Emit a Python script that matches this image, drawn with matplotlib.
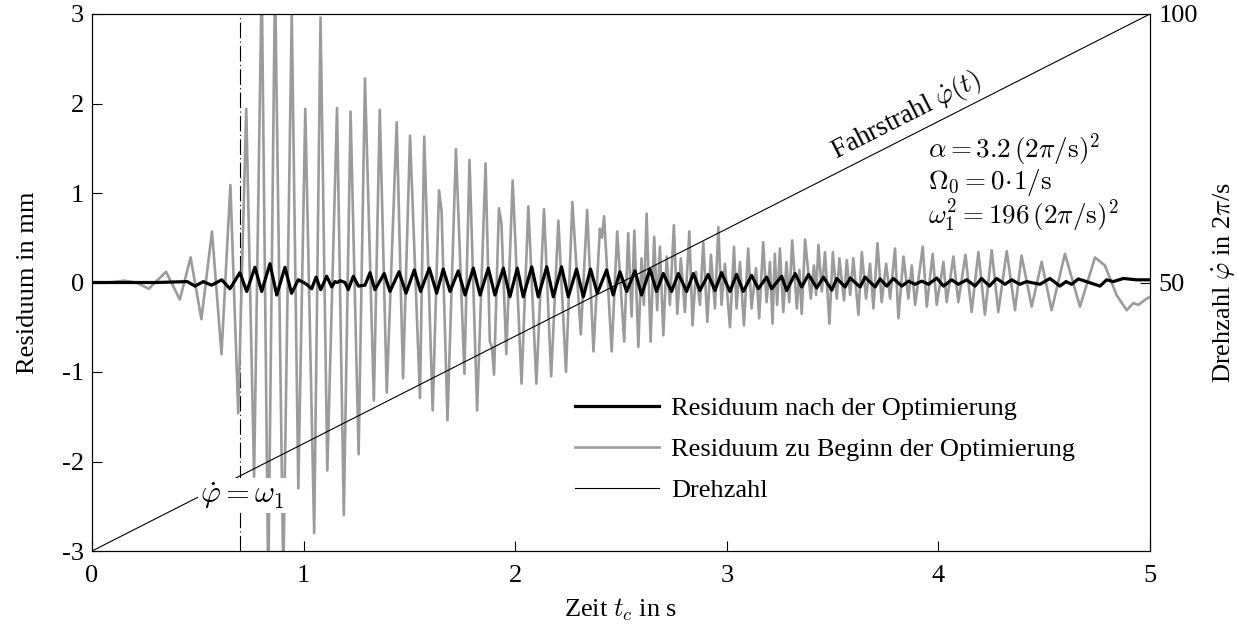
import numpy as np
import matplotlib
matplotlib.use('Agg')
import matplotlib.pyplot as plt

plt.rcParams['font.family'] = ['Liberation Serif', 'DejaVu Serif']
plt.rcParams['mathtext.fontset'] = 'cm'
plt.rcParams['axes.unicode_minus'] = False
plt.rcParams['font.size'] = 19

# ---------------- data ----------------
grey_t = [0.000, 0.080, 0.150, 0.210, 0.268, 0.350, 0.415, 0.466, 0.517, 0.567,
          0.612, 0.654, 0.691, 0.729, 0.766, 0.802, 0.833, 0.865, 0.904, 0.944,
          0.975, 1.008, 1.050, 1.080, 1.112, 1.158, 1.190, 1.222, 1.260, 1.290,
          1.332, 1.360, 1.393, 1.440, 1.470, 1.503, 1.550, 1.570, 1.610, 1.640,
          1.652, 1.680, 1.720, 1.760, 1.784, 1.820, 1.860, 1.880, 1.890, 1.900,
          1.923, 1.935, 1.958, 1.988, 2.030, 2.062, 2.100, 2.136, 2.170, 2.204,
          2.240, 2.270, 2.310, 2.340, 2.370, 2.400, 2.410, 2.420, 2.456, 2.482,
          2.515, 2.534, 2.550, 2.563, 2.582, 2.597, 2.608, 2.621, 2.640, 2.657,
          2.671, 2.684, 2.700, 2.716, 2.731, 2.750, 2.766, 2.783, 2.802, 2.823,
          2.838, 2.854, 2.873, 2.889, 2.908, 2.925, 2.944, 2.960, 2.975, 2.991,
          3.015, 3.034, 3.046, 3.062, 3.081, 3.101, 3.117, 3.138, 3.153, 3.172,
          3.188, 3.204, 3.216, 3.227, 3.238, 3.251, 3.267, 3.282, 3.295, 3.309,
          3.331, 3.343, 3.354, 3.370, 3.397, 3.412, 3.422, 3.433, 3.449, 3.464,
          3.485, 3.501, 3.520, 3.532, 3.554, 3.567, 3.583, 3.598, 3.622, 3.638,
          3.658, 3.677, 3.693, 3.712, 3.732, 3.753, 3.772, 3.795, 3.811, 3.835,
          3.858, 3.874, 3.890, 3.926, 3.945, 3.973, 3.992, 4.024, 4.039, 4.071,
          4.094, 4.128, 4.157, 4.189, 4.220, 4.252, 4.283, 4.323, 4.362, 4.393,
          4.441, 4.488, 4.535, 4.598, 4.669, 4.740, 4.787, 4.842, 4.890, 4.921,
          4.945, 4.984, 5.000]
grey_v = [0.00, 0.00, 0.02, 0.00, -0.07, 0.12, -0.19, 0.28, -0.41, 0.57,
          -0.80, 1.09, -1.46, 1.94, -2.17, 3.40, -3.40, 3.40, -3.30, 3.00,
          -2.30, 1.94, -2.80, 2.96, -2.10, 1.95, -2.60, 1.91, -1.92, 2.28,
          -1.32, 1.93, -1.23, 1.79, -1.07, 1.64, -1.29, 1.63, -1.43, 1.03,
          0.80, -1.54, 1.49, -1.02, 1.37, -1.43, 1.33, -0.66, -0.72, -1.03,
          0.83, 0.66, -0.80, 1.14, -1.13, 0.85, -1.13, 0.82, -1.05, 0.69,
          -1.00, 0.90, -0.58, 0.81, -0.77, 0.60, 0.50, 0.74, -0.77, 0.57,
          -0.66, 0.55, -0.38, 0.58, -0.72, 0.27, -0.25, 0.77, -0.66, 0.51,
          -0.31, 0.40, -0.59, 0.29, -0.25, 0.64, -0.35, 0.27, -0.33, 0.57,
          -0.48, 0.12, -0.25, 0.45, -0.44, 0.31, -0.29, 0.62, -0.25, 0.21,
          -0.50, 0.40, -0.29, 0.23, -0.48, 0.38, -0.29, 0.16, -0.40, 0.45,
          -0.22, 0.23, -0.46, 0.32, -0.25, 0.38, -0.33, 0.23, -0.22, 0.47,
          -0.29, 0.14, -0.35, 0.48, -0.18, 0.19, -0.14, 0.42, -0.10, 0.34,
          -0.46, 0.34, -0.18, 0.27, -0.20, 0.25, -0.14, 0.27, -0.36, 0.34,
          -0.18, 0.21, -0.29, 0.44, -0.22, 0.21, -0.18, 0.38, -0.40, 0.29,
          -0.18, 0.19, -0.25, 0.40, -0.27, 0.32, -0.25, 0.23, -0.22, 0.29,
          -0.22, 0.31, -0.33, 0.34, -0.36, 0.36, -0.33, 0.35, -0.31, 0.30,
          -0.27, 0.23, -0.31, 0.32, -0.27, 0.28, 0.19, -0.14, -0.31, -0.23,
          -0.25, -0.18, -0.16]

black_t = [0.000, 0.300, 0.450, 0.487, 0.526, 0.565, 0.613, 0.652, 0.699, 0.731,
           0.770, 0.802, 0.841, 0.873, 0.912, 0.943, 0.975, 1.000, 1.014, 1.038,
           1.059, 1.081, 1.109, 1.133, 1.148, 1.160, 1.172, 1.196, 1.211, 1.235,
           1.259, 1.290, 1.314, 1.337, 1.381, 1.408, 1.451, 1.484, 1.523, 1.553,
           1.594, 1.629, 1.660, 1.692, 1.731, 1.763, 1.802, 1.834, 1.873, 1.904,
           1.944, 1.975, 2.010, 2.038, 2.078, 2.109, 2.149, 2.180, 2.219, 2.251,
           2.290, 2.322, 2.356, 2.388, 2.432, 2.463, 2.495, 2.527, 2.566, 2.597,
           2.637, 2.668, 2.700, 2.739, 2.771, 2.810, 2.842, 2.873, 2.912, 2.944,
           2.975, 3.015, 3.046, 3.078, 3.117, 3.149, 3.188, 3.212, 3.259, 3.283,
           3.323, 3.354, 3.386, 3.425, 3.457, 3.496, 3.520, 3.559, 3.583, 3.630,
           3.653, 3.701, 3.724, 3.756, 3.787, 3.827, 3.858, 3.890, 3.921, 3.953,
           3.992, 4.024, 4.063, 4.094, 4.134, 4.173, 4.204, 4.241, 4.275, 4.315,
           4.346, 4.385, 4.417, 4.480, 4.527, 4.574, 4.603, 4.630, 4.661, 4.764,
           4.795, 4.826, 4.874, 4.937, 5.000]
black_v = [0.00, 0.00, 0.01, -0.04, 0.01, -0.03, 0.03, -0.07, 0.11, -0.10,
           0.17, -0.10, 0.21, -0.14, 0.17, -0.12, 0.03, 0.00, -0.02, -0.07,
           0.06, -0.08, 0.07, -0.05, 0.01, 0.00, 0.02, 0.00, -0.08, 0.07,
           -0.04, -0.03, 0.11, -0.08, 0.10, -0.10, 0.12, -0.12, 0.14, -0.10,
           0.16, -0.12, 0.15, -0.10, 0.13, -0.14, 0.16, -0.14, 0.16, -0.14,
           0.16, -0.16, 0.16, -0.16, 0.175, -0.16, 0.175, -0.16, 0.175, -0.16,
           0.15, -0.16, 0.15, -0.12, 0.14, -0.14, 0.12, -0.10, 0.13, -0.14,
           0.15, -0.10, 0.10, -0.10, 0.10, -0.10, 0.10, -0.09, 0.09, -0.09,
           0.11, -0.10, 0.09, -0.10, 0.08, -0.07, 0.06, -0.07, 0.07, -0.09,
           0.10, -0.05, 0.09, -0.06, 0.06, -0.085, 0.045, -0.05, 0.05, -0.05,
           0.06, -0.05, 0.04, -0.04, 0.045, -0.04, 0.015, -0.02, 0.015, -0.02,
           0.05, -0.04, 0.03, -0.02, 0.03, -0.04, 0.045, -0.04, 0.045, -0.02,
           0.03, -0.02, 0.01, -0.02, 0.045, -0.04, 0.01, -0.02, 0.04, -0.04,
           0.03, 0.01, 0.045, 0.03, 0.03]

drehzahl_t = [0.0, 5.0]
drehzahl_v = [0.0, 100.0]
omega1_t = 0.7

x_ticks = [0, 1, 2, 3, 4, 5]
y_ticks = [-3, -2, -1, 0, 1, 2, 3]
y2_ticks = [50, 100]

labels = ['Residuum nach der Optimierung',
          'Residuum zu Beginn der Optimierung',
          'Drehzahl']

# ---------------- figure ----------------
W, H = 1238, 630
fig = plt.figure(figsize=(W / 100, H / 100), dpi=100)
ax_l, ax_b, ax_w, ax_h = 92, 79, 1058, 537
ax = fig.add_axes([ax_l / W, ax_b / H, ax_w / W, ax_h / H])
ax2 = ax.twinx()

grey_line, = ax.plot(grey_t, grey_v, color='#9b9b9b', lw=1.9, zorder=2)
black_line, = ax.plot(black_t, black_v, color='black', lw=2.3, zorder=3)
ax.axvline(omega1_t, color='black', lw=0.8, linestyle=(0, (14, 3, 1, 3)), zorder=1)

dreh_line, = ax2.plot(drehzahl_t, drehzahl_v, color='black', lw=0.8)

ax.set_xlim(0, 5)
ax.set_ylim(-3, 3)
ax2.set_ylim(0, 100)

ax.set_xticks(x_ticks)
ax.set_xticklabels([str(v) for v in x_ticks])
ax.set_yticks(y_ticks)
ax.set_yticklabels([str(v) for v in y_ticks])
ax2.set_yticks(y2_ticks)
ax2.set_yticklabels([str(v) for v in y2_ticks])

ax.tick_params(axis='x', direction='in', length=7, width=0.8, pad=10, top=False)
ax.tick_params(axis='y', direction='in', length=7, width=0.8, pad=6, right=False)
ax2.tick_params(axis='y', direction='in', length=7, width=0.8, pad=6)

for a in (ax, ax2):
    for s in a.spines.values():
        s.set_linewidth(0.8)

ax.set_xlabel(r'Zeit $t_c$ in s')
ax.set_ylabel('Residuum in mm')
ax2.set_ylabel(r'Drehzahl $\dot{\varphi}$ in 2$\pi$/s')
ax.xaxis.set_label_coords(0.5, -0.085)
ax.yaxis.set_label_coords(-0.050, 0.5)
ax2.yaxis.set_label_coords(1.057, 0.5)

# annotations
ax2.text(0.709, 10.3, r'$\dot{\varphi}=\omega_1$', ha='center', va='center',
         fontsize=22, zorder=5,
         bbox=dict(facecolor='white', edgecolor='none', pad=1.5))

ang = np.degrees(np.arctan2(ax_h, ax_w))
ax2.text(3.88, 78.4, r'Fahrstrahl $\dot{\varphi}(t)$', rotation=ang,
         rotation_mode='anchor', ha='center', va='bottom', fontsize=19.5)

params = (r'$\alpha=3.2\,(2\pi/\mathrm{s})^2$' + '\n' +
          r'$\Omega_0=0\!\cdot\!1/\mathrm{s}$' + '\n' +
          r'$\omega_1^2=196\,(2\pi/\mathrm{s})^2$')
ax2.text(0.790, 0.686, params, transform=ax.transAxes, ha='left', va='center',
         fontsize=19.5, linespacing=0.98)

leg = ax2.legend([black_line, grey_line, dreh_line], labels,
                 loc='upper left', bbox_to_anchor=(0.4565, 0.287),
                 frameon=False, handlelength=3.2, handletextpad=0.45,
                 labelspacing=0.66, borderpad=0, borderaxespad=0, fontsize=19)

fig.savefig('out.png', dpi=100)
